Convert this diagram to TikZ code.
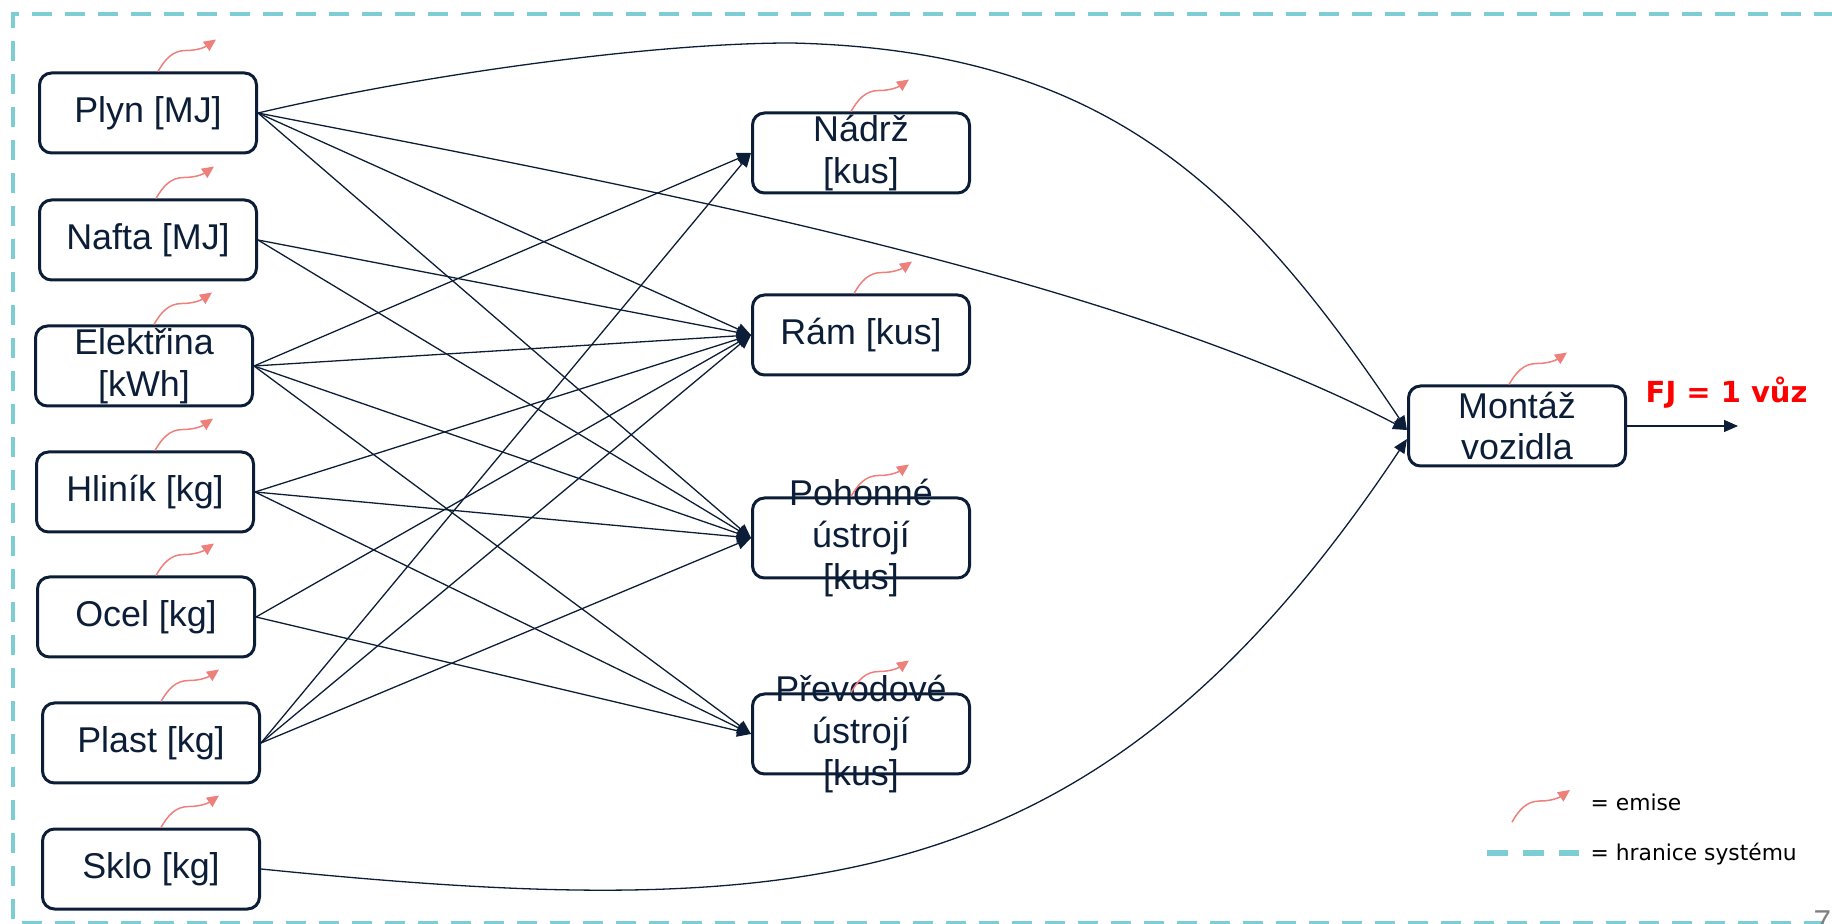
\documentclass[tikz,border=0pt]{standalone}
\usepackage{fontspec}
\setmainfont{Liberation Sans}
\newfontfamily\legendfont{DejaVu Sans}
\usetikzlibrary{arrows.meta, positioning}

\definecolor{navy}{RGB}{12,30,55}
\definecolor{emisred}{RGB}{238,128,124}
\definecolor{hranice}{RGB}{125,205,212}

\begin{document}
\begin{tikzpicture} [
	x=0.1mm, y=0.1mm, % one unit is one pixel of the slide
	font=\fontsize{10.2}{11.9}\selectfont,
	box/.style={draw=navy, text=navy, line width=0.3mm, rounded corners=1.2mm,
		minimum width=21.7mm, minimum height=8mm, inner sep=0pt, align=center}, % process boxes
	overtext/.style={label={[text=navy, align=center]center:#1}}, % text taller than its box
	conn/.style={draw=navy, line width=0.13mm, -{Triangle[length=1.4mm, width=1.2mm]}}, % flows
	emis/.style={draw=emisred, line width=0.15mm, -{Triangle[length=1.2mm, width=1.1mm]}}, % emissions
	legend/.style={font=\legendfont\fontsize{6.2}{7.5}\selectfont, inner sep=0pt},
	]
	\useasboundingbox (0,0) rectangle (1832,-924);

	% system boundary
	\draw[hranice, line width=0.4mm, dash pattern=on 2mm off 1.3mm] (1900,-14) -| (13,-923) -- (1900,-923);

	% inputs
	\node[box] (plyn) at (148,-113) {Plyn [MJ]};
	\node[box] (nafta) at (148,-240) {Nafta [MJ]};
	\node[box] (elek) at (144,-366) {Elektřina\\{[kWh]}};
	\node[box] (hlinik) at (145,-492) {Hliník [kg]};
	\node[box] (ocel) at (146,-617) {Ocel [kg]};
	\node[box] (plast) at (151,-743) {Plast [kg]};
	\node[box] (sklo) at (151,-869) {Sklo [kg]};

	% parts
	\node[box] (nadrz) at (861,-153) {Nádrž\\{[kus]}};
	\node[box] (ram) at (861,-335) {Rám [kus]};
	\node[box, overtext={Pohonné\\ústrojí\\{[kus]}}] (pohon) at (861,-538) {};
	\node[box, overtext={Převodové\\ústrojí\\{[kus]}}] (prevod) at (861,-734) {};

	% assembly
	\node[box] (montaz) at (1517,-426) {Montáž\\vozidla};
	\coordinate (vystup) at (1738,-426);
	\node[text=red, font=\legendfont\bfseries\fontsize{8.25}{10}\selectfont, anchor=base west, inner sep=0pt] (fj) at (1645,-403) {FJ = 1 vůz};

	\path[every edge/.style=conn]
		(plyn.east) edge (ram.west) edge (pohon.west)
		(nafta.east) edge (ram.west) edge (pohon.west)
		(elek.east) edge (nadrz.west) edge (ram.west) edge (pohon.west) edge (prevod.west)
		(hlinik.east) edge (ram.west) edge (pohon.west) edge (prevod.west)
		(ocel.east) edge (ram.west) edge (prevod.west)
		(plast.east) edge (nadrz.west) edge (ram.west) edge (pohon.west)
	;
	\draw[conn] (plyn.east) .. controls (420,-75) and (650,-43) .. (791,-43)
		.. controls (1100,-50) and (1240,-180) .. ([yshift=-0.4mm]montaz.west);
	\draw[conn] (plyn.east) .. controls (600,-180) and (1100,-270) .. ([yshift=-0.4mm]montaz.west);
	\draw[conn] (sklo.east) .. controls (809,-924) and (1100,-900) .. ([yshift=-1.3mm]montaz.west);
	\draw[conn] (montaz.east) -- (vystup);

	% emissions
	\foreach \n/\dx in {plyn/1, nafta/0.8, elek/1, hlinik/1, ocel/1, plast/1, sklo/1,
		nadrz/-1, ram/-0.7, pohon/-1, prevod/-1, montaz/-0.8}
		\draw[emis] ([xshift=\dx mm]\n.north) to[out=60, in=180] ++(28,21) to[out=0, in=215] ++(30,11);

	% legend
	\coordinate (lgemis) at (1512,-822);
	\draw[emis] (lgemis) to[out=60, in=180] ++(28,21) to[out=0, in=215] ++(30,11);
	\node[legend, anchor=base west] (lgemist) at (1590,-810) {= emise};
	\coordinate (lghranA) at (1487,-853);
	\coordinate (lghranB) at (1579,-853);
	\draw[hranice, line width=0.6mm, dash pattern=on 2.1mm off 1.5mm] (lghranA) -- (lghranB);
	\node[legend, anchor=base west] (lghrant) at (1590,-860) {= hranice systému};

	\node[text=gray, font=\fontsize{9}{10}\selectfont, anchor=north west, inner sep=0pt] (strana) at (1813,-910) {7};
\end{tikzpicture}
\end{document}
